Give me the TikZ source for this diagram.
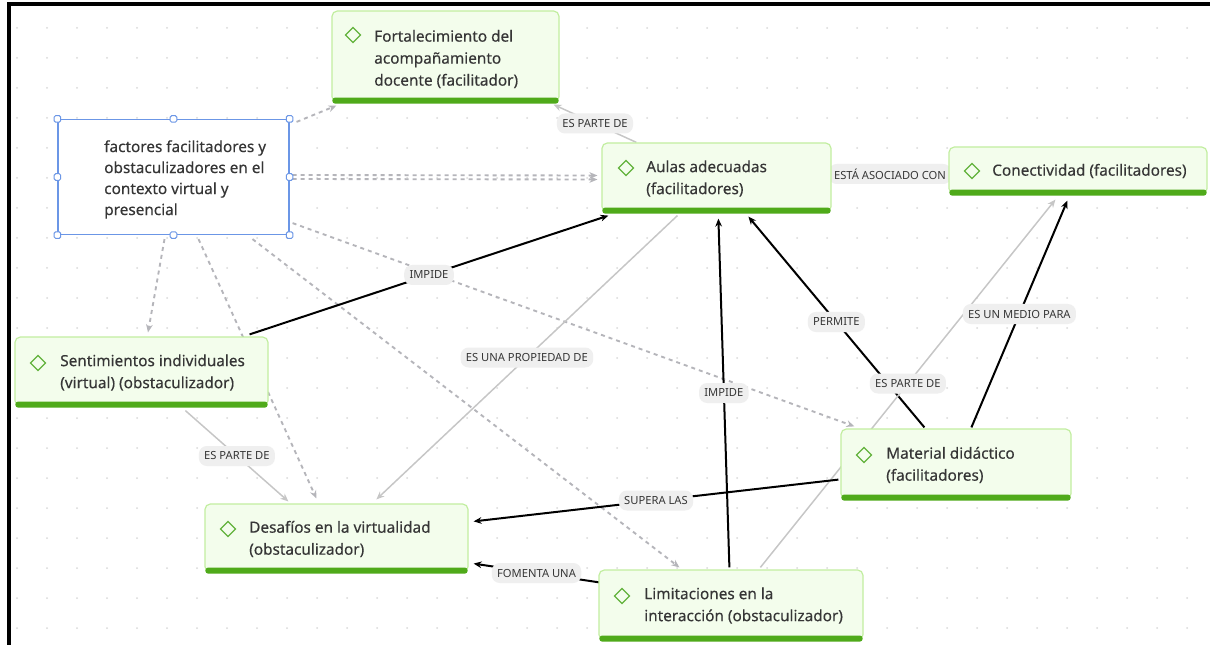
\documentclass[tikz,border=0pt]{standalone}
\usepackage{fontspec}
\setmainfont{Noto Sans}
\newfontfamily\nodefont{Noto Sans}[FakeBold=0.3]
\usetikzlibrary{shapes.geometric,arrows.meta,calc}
\definecolor{nfill}{HTML}{F3FDEC}
\definecolor{nborder}{HTML}{C2EEA0}
\definecolor{nbar}{HTML}{4FAA1A}
\definecolor{ndia}{HTML}{62B23C}
\definecolor{ntext}{HTML}{363636}
\definecolor{fblue}{HTML}{6B96E6}
\definecolor{lgray}{HTML}{C6C6C6}
\definecolor{dgray}{HTML}{B5B5BA}
\definecolor{lblfill}{HTML}{EFEFEF}
\definecolor{dotc}{HTML}{D9D9D9}
\pgfdeclarelayer{grid}
\pgfdeclarelayer{lines}
\pgfsetlayers{grid,lines,main}
\tikzset{
 cbox/.style={draw=nborder, fill=nfill, line width=0.9pt, rounded corners=4pt, inner sep=0},
 fbox/.style={draw=fblue, fill=white, line width=0.9pt, inner sep=0},
 bar/.style={fill=nbar, rounded corners=2pt},
 dmd/.style={diamond, draw=ndia, line width=0.9pt, minimum width=11.5pt, minimum height=11.5pt, inner sep=0},
 ctext/.style={font=\nodefont\fontsize{11.5pt}{16.5pt}\selectfont, text=ntext, align=left, inner sep=0, anchor=west},
 lbl/.style={fill=lblfill, rounded corners=6pt, font=\fontsize{8.4pt}{10pt}\selectfont, text=ntext, inner xsep=4pt, inner ysep=0pt, minimum height=15pt},
 blk/.style={draw=black, line width=1.5pt, -{Stealth[length=6pt,width=5pt]}},
 gry/.style={draw=lgray, line width=1.1pt, -{Stealth[length=6pt,width=5pt]}},
 dsh/.style={draw=dgray, line width=1.4pt, dash pattern=on 3pt off 3pt, -{Stealth[length=6pt,width=5pt]}},
 hdl/.style={draw=fblue, fill=white, line width=0.75pt, rounded corners=1.2pt, minimum size=5pt, inner sep=0},
}
\begin{document}
\begin{tikzpicture}[x=0.75pt,y=-0.75pt]
\useasboundingbox (0,0) rectangle (1210,645);
\begin{pgfonlayer}{grid}
\fill[white] (0,0) rectangle (1210,645);
\foreach \i in {0,...,40}{\foreach \j in {0,...,20}{\fill[dotc] (17+30*\i,28+30*\j) circle (1);}}
\fill[black] (7,2) rectangle (1210,6);
\fill[black] (7,2) rectangle (11,645);
\end{pgfonlayer}

% concept boxes
\node[cbox, minimum width=170.25pt, minimum height=68.25pt] (fort) at (445.5,56.5) {};
\fill[bar] ($(fort.south west)+(1,1)$) rectangle ($(fort.south east)+(-1,-5)$);
\node[dmd] (fort-d) at (353,35) {};
\node[ctext] (fort-t) at (374,59) {Fortalecimiento del\\acompañamiento\\docente (facilitador)};

\node[fbox, minimum width=173.25pt, minimum height=86.25pt] (fact) at (173.5,177) {};
\node[ctext, font=\nodefont\fontsize{11.5pt}{15.75pt}\selectfont] (fact-t) at (104,179.5) {factores facilitadores y\\obstaculizadores en el\\contexto virtual y\\presencial};
\foreach \a/\n in {north west/1,north/2,north east/3,east/4,south east/5,south/6,south west/7,west/8}
  \node[hdl] (h\n) at (fact.\a) {};

\node[cbox, minimum width=171.75pt, minimum height=51.75pt] (aulas) at (716.5,177.5) {};
\fill[bar] ($(aulas.south west)+(1,1)$) rectangle ($(aulas.south east)+(-1,-5)$);
\node[dmd] (aulas-d) at (626,168) {};
\node[ctext] (aulas-t) at (646,178.5) {Aulas adecuadas\\(facilitadores)};

\node[cbox, minimum width=193.5pt, minimum height=35.25pt] (conec) at (1078,170.5) {};
\fill[bar] ($(conec.south west)+(1,1)$) rectangle ($(conec.south east)+(-1,-5)$);
\node[dmd] (conec-d) at (972,171) {};
\node[ctext] (conec-t) at (992,171) {Conectividad (facilitadores)};

\node[cbox, minimum width=189.75pt, minimum height=51.75pt] (sent) at (141.5,371.5) {};
\fill[bar] ($(sent.south west)+(1,1)$) rectangle ($(sent.south east)+(-1,-5)$);
\node[dmd] (sent-d) at (38,363) {};
\node[ctext] (sent-t) at (60,372.5) {Sentimientos individuales\\(virtual) (obstaculizador)};

\node[cbox, minimum width=197.25pt, minimum height=51pt] (desaf) at (336.5,538) {};
\fill[bar] ($(desaf.south west)+(1,1)$) rectangle ($(desaf.south east)+(-1,-5)$);
\node[dmd] (desaf-d) at (228,529) {};
\node[ctext] (desaf-t) at (249,539) {Desafíos en la virtualidad\\(obstaculizador)};

\node[cbox, minimum width=172.5pt, minimum height=52.5pt] (mat) at (956,464) {};
\fill[bar] ($(mat.south west)+(1,1)$) rectangle ($(mat.south east)+(-1,-5)$);
\node[dmd] (mat-d) at (864,455) {};
\node[ctext] (mat-t) at (886,465) {Material didáctico\\(facilitadores)};

\node[cbox, minimum width=198pt, minimum height=52.5pt] (lim) at (731,605) {};
\fill[bar] ($(lim.south west)+(1,1)$) rectangle ($(lim.south east)+(-1,-5)$);
\node[dmd] (lim-d) at (622,596) {};
\node[ctext] (lim-t) at (644,605.5) {Limitaciones en la\\interacción (obstaculizador)};

\begin{pgfonlayer}{lines}
\draw[dsh] ($(fact.north east)+(7,3)$) -- ($(fort.south west)+(5,3)$);
\draw[dsh] ($(fact.east)+(3,-2)$) -- ($(aulas.west)+(-4,-2)$);
\draw[dsh] ($(fact.east)+(3,2)$) -- ($(aulas.west)+(-4,2)$);
\draw[dsh] ($(fact.south east)+(3,-12)$) -- ($(mat.north west)+(14,-2)$);
\draw[dsh] ($(fact.south)+(-9,4)$) -- ($(sent.north)+(6.5,-4)$);
\draw[dsh] ($(fact.south)+(25,4)$) -- ($(desaf.north west)+(112,-5)$);
\draw[dsh] ($(fact.south)+(79,4)$) -- ($(lim.north west)+(81,-2)$);

\draw[gry] ($(aulas.north west)+(35,0)$) -- node[lbl] (l1) {ES PARTE DE} ($(fort.south east)+(-6,2)$);
\draw[draw=lgray, line width=1.1pt] (aulas.east) -- node[lbl] (l2) {ESTÁ ASOCIADO CON} (conec.west);
\draw[blk] ($(sent.north east)+(-19,-2)$) -- node[lbl] (l3) {IMPIDE} ($(aulas.south west)+(7,3)$);
\draw[gry] ($(aulas.south west)+(76,3)$) -- node[lbl] (l4) {ES UNA PROPIEDAD DE} ($(desaf.north west)+(172,-4)$);
\draw[blk] ($(lim.north west)+(131,-2)$) -- node[lbl] (l5) {IMPIDE} ($(aulas.south west)+(117,6)$);
\draw[blk] ($(mat.north west)+(84,-1)$) -- node[lbl] (l6) {PERMITE} ($(aulas.south west)+(147,4)$);
\draw[gry] ($(lim.north west)+(162,-2)$) -- node[lbl] (l7) {ES PARTE DE} ($(conec.south west)+(107,5)$);
\draw[blk] ($(mat.north west)+(131,-1)$) -- node[lbl] (l8) {ES UN MEDIO PARA} ($(conec.south west)+(119,6)$);
\draw[gry] ($(sent.south west)+(171,4)$) -- node[lbl] (l9) {ES PARTE DE} ($(desaf.north west)+(84,-2)$);
\draw[blk] ($(mat.south west)+(-2,-20)$) -- node[lbl] (l10) {SUPERA LAS} ($(desaf.north east)+(5,18)$);
\draw[blk] ($(lim.north west)+(1,13)$) -- node[lbl] (l11) {FOMENTA UNA} ($(desaf.south east)+(5,-9)$);
\end{pgfonlayer}
\end{tikzpicture}
\end{document}
